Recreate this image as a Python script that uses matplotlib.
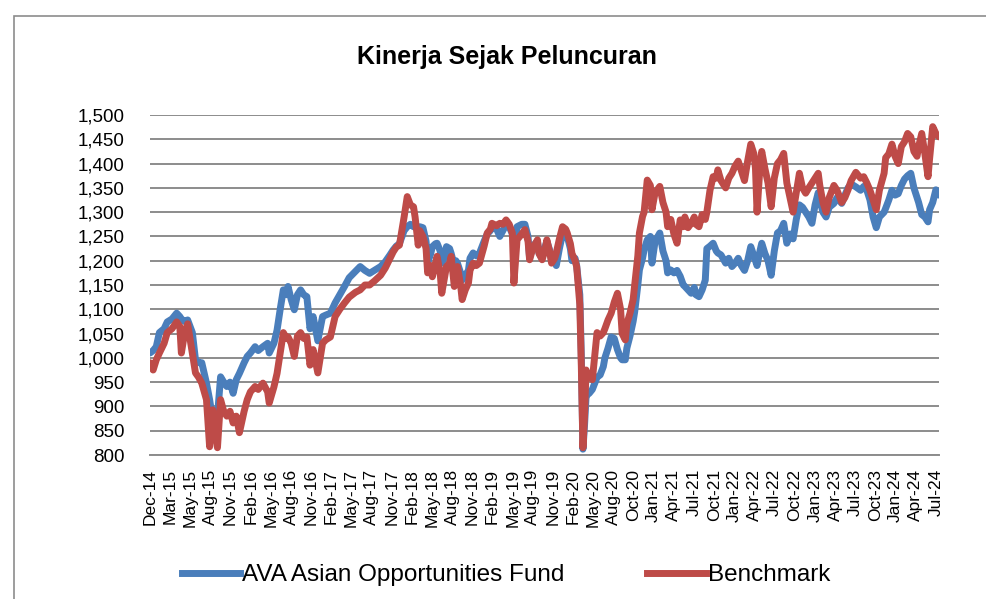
import matplotlib
matplotlib.use("Agg")
import matplotlib.pyplot as plt
import numpy as np
from matplotlib.patches import Rectangle
from matplotlib.lines import Line2D

# ---- data (weeks since launch, index values) ----
weeks = [0, 2, 4, 6, 9, 11, 14, 17, 19, 20,
         22, 24, 27, 29, 31, 33, 36, 38, 40, 43,
         45, 47, 49, 51, 53, 55, 57, 60, 62, 64,
         67, 69, 72, 75, 76, 79, 81, 83, 85, 87,
         88, 90, 92, 94, 96, 98, 100, 102, 104, 107,
         110, 112, 115, 118, 121, 124, 127, 131, 134, 137,
         140, 143, 147, 150, 153, 155, 157, 159, 162, 164,
         166, 168, 169, 171, 172, 174, 176, 177, 179, 180,
         182, 183, 185, 186, 188, 189, 191, 192, 194, 195,
         196, 198, 199, 201, 203, 204, 206, 208, 210, 213,
         215, 217, 218, 221, 223, 225, 227, 229, 231, 232,
         233, 234, 237, 239, 241, 242, 244, 247, 248, 250,
         252, 253, 255, 256, 258, 259, 261, 263, 265, 266,
         268, 269, 271, 272, 274, 275, 276, 277, 278, 279,
         280, 282, 285, 287, 289, 290, 292, 294, 296, 298,
         300, 301, 303, 304, 306, 308, 309, 311, 312, 314,
         315, 317, 319, 320, 322, 325, 327, 329, 330, 332,
         334, 336, 338, 340, 341, 343, 345, 347, 348, 350,
         352, 354, 355, 357, 359, 361, 362, 364, 367, 369,
         371, 373, 375, 377, 379, 381, 383, 385, 386, 387,
         389, 390, 392, 394, 396, 398, 400, 402, 404, 406,
         408, 410, 412, 414, 416, 418, 420, 422, 424, 426,
         427, 429, 431, 433, 436, 438, 441, 443, 445, 447,
         450, 453, 455, 457, 459, 461, 463, 465, 468, 469,
         471, 473, 475, 477, 479, 481, 483, 485, 487, 489,
         490, 492, 494, 496, 497, 499, 501, 503]

fund = [1010, 1015, 1023, 1052, 1060, 1074, 1080, 1092, 1085, 1080,
        1075, 1078, 1052, 996, 990, 990, 948, 914, 873, 880,
        961, 950, 941, 950, 927, 955, 968, 990, 1003, 1010,
        1023, 1015, 1023, 1030, 1010, 1030, 1057, 1100, 1140, 1130,
        1147, 1120, 1099, 1130, 1140, 1130, 1126, 1060, 1085, 1035,
        1085, 1088, 1092, 1113, 1130, 1147, 1165, 1178, 1188, 1180,
        1174, 1180, 1188, 1198, 1212, 1222, 1230, 1235, 1262, 1270,
        1275, 1270, 1275, 1260, 1270, 1268, 1240, 1195, 1215, 1229,
        1235, 1236, 1220, 1195, 1210, 1229, 1225, 1215, 1190, 1200,
        1195, 1175, 1160, 1170, 1180, 1205, 1216, 1210, 1215, 1240,
        1255, 1262, 1270, 1265, 1250, 1262, 1275, 1270, 1255, 1240,
        1235, 1270, 1275, 1275, 1250, 1205, 1230, 1240, 1215, 1205,
        1230, 1240, 1220, 1200, 1210, 1190, 1225, 1255, 1260, 1250,
        1225, 1200, 1205, 1190, 1130, 1000, 812, 860, 920, 925,
        927, 935, 960, 965, 982, 1000, 1020, 1043, 1040, 1017,
        1000, 996, 996, 1020, 1045, 1075, 1095, 1150, 1181, 1205,
        1222, 1243, 1250, 1195, 1240, 1257, 1220, 1200, 1175, 1181,
        1175, 1180, 1168, 1150, 1147, 1140, 1133, 1145, 1130, 1126,
        1140, 1160, 1225, 1230, 1236, 1220, 1216, 1212, 1195, 1205,
        1188, 1195, 1205, 1190, 1180, 1200, 1229, 1210, 1200, 1190,
        1222, 1236, 1215, 1200, 1170, 1220, 1257, 1262, 1277, 1236,
        1255, 1245, 1285, 1315, 1310, 1300, 1290, 1277, 1315, 1340,
        1325, 1300, 1290, 1310, 1318, 1330, 1318, 1335, 1350, 1358,
        1352, 1345, 1353, 1345, 1325, 1290, 1268, 1290, 1300, 1308,
        1325, 1345, 1335, 1338, 1355, 1368, 1375, 1380, 1350, 1330,
        1320, 1295, 1290, 1280, 1305, 1320, 1346, 1335]

benchmark = [990, 975, 996, 1010, 1030, 1052, 1060, 1074, 1065, 1010,
             1050, 1070, 1010, 969, 960, 948, 914, 817, 893, 815,
             914, 890, 880, 890, 866, 880, 846, 890, 914, 930,
             941, 935, 948, 930, 907, 940, 968, 1010, 1052, 1040,
             1043, 1030, 1003, 1045, 1052, 1040, 1043, 985, 1017, 969,
             1030, 1037, 1043, 1085, 1100, 1113, 1125, 1135, 1140, 1150,
             1150, 1158, 1170, 1185, 1205, 1218, 1228, 1232, 1290, 1332,
             1315, 1311, 1290, 1232, 1262, 1250, 1225, 1175, 1190, 1167,
             1192, 1209, 1175, 1133, 1170, 1188, 1195, 1209, 1147, 1175,
             1188, 1150, 1120, 1140, 1154, 1180, 1195, 1190, 1195, 1230,
             1257, 1265, 1277, 1272, 1277, 1275, 1284, 1275, 1257, 1154,
             1200, 1243, 1255, 1264, 1240, 1202, 1225, 1243, 1215, 1202,
             1225, 1243, 1215, 1195, 1205, 1216, 1245, 1270, 1265, 1257,
             1235, 1215, 1200, 1188, 1110, 980, 815, 880, 975, 960,
             968, 955, 1052, 1045, 1052, 1060, 1078, 1092, 1115, 1133,
             1100, 1050, 1037, 1070, 1092, 1120, 1150, 1210, 1257, 1291,
             1300, 1366, 1355, 1305, 1340, 1353, 1320, 1300, 1270, 1285,
             1255, 1236, 1284, 1270, 1290, 1268, 1277, 1290, 1275, 1270,
             1295, 1285, 1300, 1345, 1373, 1370, 1387, 1365, 1350, 1370,
             1380, 1395, 1405, 1385, 1365, 1405, 1440, 1420, 1390, 1300,
             1400, 1425, 1390, 1360, 1311, 1370, 1400, 1408, 1421, 1360,
             1330, 1300, 1340, 1380, 1350, 1339, 1350, 1360, 1370, 1380,
             1355, 1320, 1300, 1330, 1355, 1345, 1320, 1330, 1346, 1365,
             1382, 1370, 1373, 1360, 1345, 1325, 1305, 1345, 1380, 1412,
             1420, 1440, 1415, 1400, 1435, 1445, 1462, 1455, 1425, 1415,
             1435, 1462, 1420, 1373, 1410, 1476, 1462, 1455]

tick_labels = ["Dec-14", "Mar-15", "May-15", "Aug-15", "Nov-15", "Feb-16", "May-16",
               "Aug-16", "Nov-16", "Feb-17", "May-17", "Aug-17", "Nov-17", "Feb-18",
               "May-18", "Aug-18", "Nov-18", "Feb-19", "May-19", "Aug-19", "Nov-19",
               "Feb-20", "May-20", "Aug-20", "Oct-20", "Jan-21", "Apr-21", "Jul-21",
               "Oct-21", "Jan-22", "Apr-22", "Jul-22", "Oct-22", "Jan-23", "Apr-23",
               "Jul-23", "Oct-23", "Jan-24", "Apr-24", "Jul-24"]
series_names = ["AVA Asian Opportunities Fund", "Benchmark"]
title = "Kinerja Sejak Peluncuran"

BLUE = "#4A7EBB"
RED = "#BE4B48"
GRID = "#8C8C8C"

plt.rcParams["font.family"] = ["Liberation Sans", "DejaVu Sans"]

W, H = 987, 599
fig = plt.figure(figsize=(W / 100, H / 100), dpi=100)
fig.patch.set_facecolor("white")

# outer chart border
fig.patches.append(Rectangle((14 / W, -0.1), 1.2, 1 - 16 / H + 0.1,
                             transform=fig.transFigure, fill=False,
                             edgecolor="#8C8C8C", linewidth=1.2))

ax = fig.add_axes([150 / W, (H - 455) / H, 789 / W, 340 / H])
ax.plot(weeks, fund, color=BLUE, linewidth=5.0, solid_joinstyle="round",
        solid_capstyle="round", zorder=3)
ax.plot(weeks, benchmark, color=RED, linewidth=5.0, solid_joinstyle="round",
        solid_capstyle="round", zorder=4)

ax.set_ylim(800, 1500)
ax.set_xlim(0, 503)
yt = np.arange(800, 1501, 50)
ax.set_yticks(yt)
ax.set_yticklabels([f"{v:,}" for v in yt], fontsize=13.5)
ax.set_xticks(np.linspace(0, 501, len(tick_labels)))
ax.set_xticklabels(tick_labels, rotation=90, fontsize=12.5)
ax.tick_params(axis="both", length=0)
ax.tick_params(axis="x", pad=10)
ax.tick_params(axis="y", pad=18)
ax.grid(axis="y", color=GRID, linewidth=1.4)
ax.set_axisbelow(True)
for s in ["top", "right", "left"]:
    ax.spines[s].set_visible(False)
ax.spines["bottom"].set_color(GRID)
ax.spines["bottom"].set_linewidth(1.4)

fig.text(507 / W, 1 - 57 / H, title, ha="center", va="center", fontsize=18,
         fontweight="bold", family=["Liberation Sans Narrow", "Liberation Sans", "DejaVu Sans"])

handles = [Line2D([], [], color=BLUE, linewidth=5),
           Line2D([], [], color=RED, linewidth=5)]
fig.legend(handles, series_names, loc="center", bbox_to_anchor=(506 / W, 1 - 575 / H),
           ncol=2, frameon=False, fontsize=17.5, handlelength=2.4, handletextpad=0.1,
           columnspacing=3.4)

fig.savefig("out.png", dpi=100, facecolor="white")
